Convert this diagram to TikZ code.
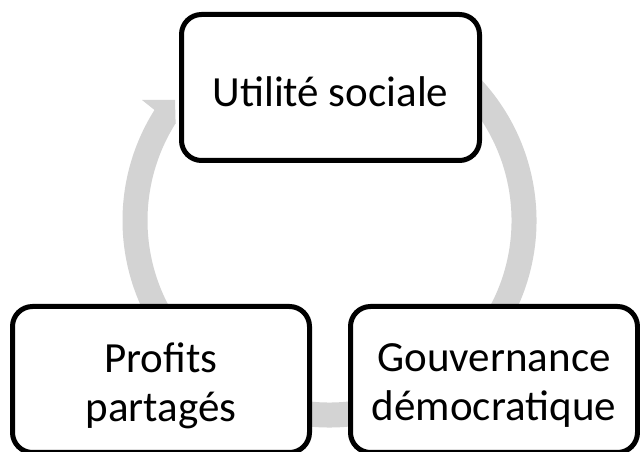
\documentclass[tikz,border=0pt]{standalone}
\usepackage{fontspec}
\setmainfont{Carlito}
\definecolor{ringgray}{RGB}{211,211,211}
\begin{document}
\begin{tikzpicture}[x=1pt,y=1pt,
  box/.style={draw=black, line width=5pt, rounded corners=20pt, fill=white,
              inner sep=0pt, minimum height=146pt},
  lbl/.style={align=center, font=\fontsize{43}{49}\selectfont, inner sep=0pt},
  ring/.style={draw=ringgray, line width=25pt}]
\useasboundingbox (0,0) rectangle (640,452);
\clip (0,0) rectangle (640,452);
\coordinate (c) at (329.5,231.5);
\draw[ring] (c) ++(60:194.5) arc[start angle=60, end angle=-212.3, radius=194.5];
\fill[ringgray] (154.5,342) -- (142,352) -- (175,352) -- (175.6,328.7) -- (170,325) -- cycle;
\node[box, minimum width=298pt] (u) at (330.5,364.5) {};
\node[box, minimum width=297pt] (p) at (161,72.5) {};
\node[box, minimum width=287pt] (g) at (494,72.5) {};
\node[lbl] (ut) at ([yshift=-4pt]u.center) {Utilité sociale};
\node[lbl] (pt) at ([yshift=-6pt]p.center) {Profits\\partagés};
\node[lbl] (gt) at ([yshift=-6pt]g.center) {Gouvernance\\démocratique};
\end{tikzpicture}
\end{document}
